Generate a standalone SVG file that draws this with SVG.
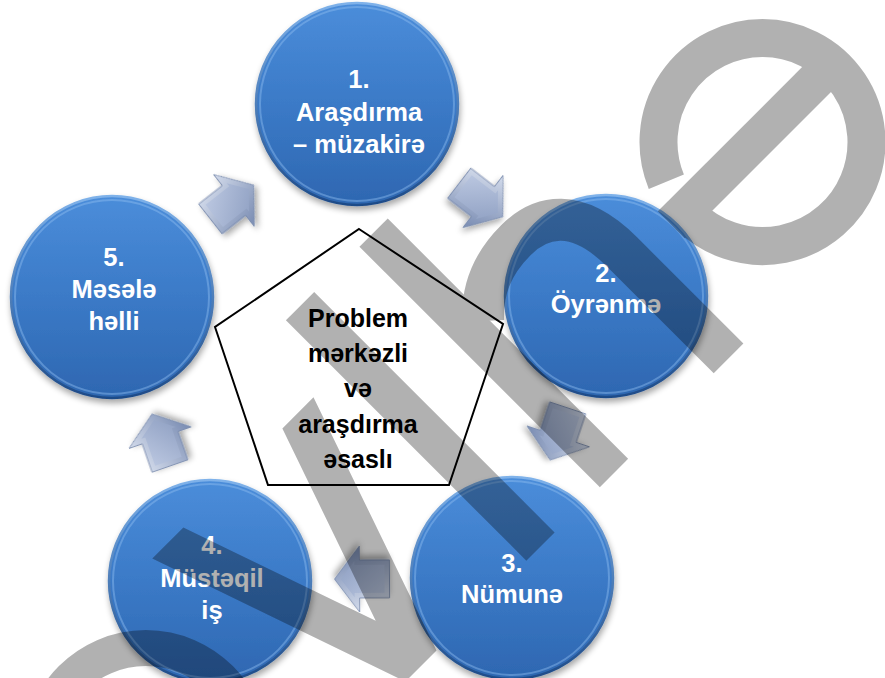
<svg xmlns="http://www.w3.org/2000/svg" width="885" height="678" viewBox="0 0 885 678">
<defs>
<style>
.ct{font-family:"Liberation Sans",Arial,"DejaVu Sans",sans-serif;font-weight:bold;font-size:25.5px;fill:#ffffff;text-anchor:middle}
.pt{font-family:"Liberation Sans",Arial,"DejaVu Sans",sans-serif;font-weight:bold;font-size:25px;fill:#000000;text-anchor:middle}
.disc{fill:url(#gBlue);stroke:url(#gRim);stroke-width:2.5;filter:url(#sh)}
.gloss{fill:none;stroke:#8fbdf0;stroke-width:2;opacity:0.45}
.wm{fill:#000000;stroke:none}
.wms{fill:none;stroke:#000000}
</style>
<linearGradient id="gBlue" x1="0" y1="0" x2="0" y2="1">
<stop offset="0" stop-color="#4b8dda"/>
<stop offset="0.5" stop-color="#3b7ac7"/>
<stop offset="1" stop-color="#2e67b1"/>
</linearGradient>
<linearGradient id="gRim" x1="0" y1="0" x2="0" y2="1">
<stop offset="0" stop-color="#7fb2ea"/>
<stop offset="1" stop-color="#1e4b88"/>
</linearGradient>
<linearGradient id="gArr" x1="0" y1="0" x2="0.3" y2="1">
<stop offset="0" stop-color="#e3e9f5"/>
<stop offset="1" stop-color="#7f91b6"/>
</linearGradient>
<linearGradient id="gArrIn" x1="0" y1="0" x2="1" y2="1">
<stop offset="0" stop-color="#bcc8e1"/>
<stop offset="1" stop-color="#8d9ec1"/>
</linearGradient>
<filter id="sh" x="-20%" y="-20%" width="140%" height="150%">
<feGaussianBlur in="SourceAlpha" stdDeviation="3"/>
<feOffset dx="1" dy="4"/>
<feComponentTransfer><feFuncA type="linear" slope="0.35"/></feComponentTransfer>
<feMerge><feMergeNode/><feMergeNode in="SourceGraphic"/></feMerge>
</filter>
<g id="arrow">
<polygon points="-27.5,-19 2.5,-19 2.5,-33 27.5,0 2.5,33 2.5,19 -27.5,19" fill="url(#gArr)" stroke="#7486aa" stroke-width="0.8" filter="url(#sh)"/>
<polygon points="-22.5,-14 7.5,-14 7.5,-18.1 21.2,0 7.5,18.1 7.5,14 -22.5,14" fill="url(#gArrIn)"/>
</g>
</defs>

<rect x="0" y="0" width="885" height="678" fill="#ffffff"/>

<g id="connectors">
<use href="#arrow" transform="translate(481,200) rotate(37.6)"/>
<use href="#arrow" transform="translate(559,434) rotate(108.5)"/>
<use href="#arrow" transform="translate(362,579) rotate(179.6)"/>
<use href="#arrow" transform="translate(161,440) rotate(-109.1)"/>
<use href="#arrow" transform="translate(232,202) rotate(-38.1)"/>
</g>

<g id="center">
<polygon points="359,229 503,324 449,485 268,485 215,327" fill="#ffffff" stroke="#000000" stroke-width="2"/>
<text class="pt" x="358" y="327">Problem</text>
<text class="pt" x="358" y="362">mərkəzli</text>
<text class="pt" x="358" y="397">və</text>
<text class="pt" x="358" y="433">araşdırma</text>
<text class="pt" x="358" y="468">əsaslı</text>
</g>

<g id="node1">
<circle class="disc" cx="357" cy="104" r="101"/>
<circle class="gloss" cx="357" cy="104" r="97"/>
<text class="ct" x="359" y="88">1.</text>
<text class="ct" x="359" y="121">Araşdırma</text>
<text class="ct" x="359" y="153">– müzakirə</text>
</g>

<g id="node2">
<circle class="disc" cx="606" cy="296" r="101"/>
<circle class="gloss" cx="606" cy="296" r="97"/>
<text class="ct" x="606" y="282">2.</text>
<text class="ct" x="606" y="313">Öyrənmə</text>
</g>

<g id="node3">
<circle class="disc" cx="512" cy="578" r="101"/>
<circle class="gloss" cx="512" cy="578" r="97"/>
<text class="ct" x="512" y="572">3.</text>
<text class="ct" x="512" y="603">Nümunə</text>
</g>

<g id="node4">
<circle class="disc" cx="210" cy="581" r="101"/>
<circle class="gloss" cx="210" cy="581" r="97"/>
<text class="ct" x="212" y="554">4.</text>
<text class="ct" x="212" y="587">Müstəqil</text>
<text class="ct" x="212" y="619">iş</text>
</g>

<g id="node5">
<circle class="disc" cx="112" cy="297" r="101"/>
<circle class="gloss" cx="112" cy="297" r="97"/>
<text class="ct" x="114" y="266">5.</text>
<text class="ct" x="114" y="298">Məsələ</text>
<text class="ct" x="114" y="330">həlli</text>
</g>

<g id="watermark" opacity="0.3" transform="translate(614,473) rotate(-45)">
<circle class="wms" cx="-529" cy="-133" r="105" stroke-width="36"/>
<polygon class="wm" points="-387,-266 -343,-266 -273,-64 -203,-266 -159,-266 -251,0 -295,0"/>
<rect class="wm" x="-124" y="-340" width="40" height="340"/>
<rect class="wm" x="-20" y="-340" width="40" height="340"/>
<path class="wms" stroke-width="42" d="M162 0 L162 -150 C162 -215 130 -234 95 -234 C60 -234 35 -222 15 -200"/>
<g transform="translate(339,-129)">
<path class="wms" stroke-width="38" d="M-104 0 A104 104 0 1 0 -96 -40"/>
<rect class="wm" x="-123" y="-25" width="215" height="38"/>
</g>
</g>
</svg>
